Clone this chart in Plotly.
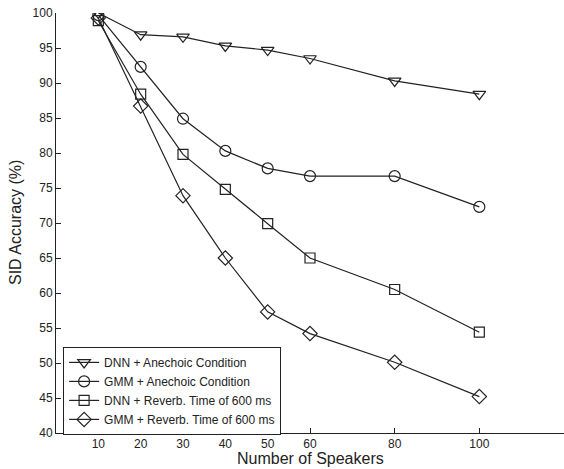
import plotly.graph_objects as go

speakers = [10, 20, 30, 40, 50, 60, 80, 100]
dnn_anechoic = [100.0, 96.9, 96.6, 95.3, 94.7, 93.5, 90.3, 88.4]
gmm_anechoic = [99.7, 92.3, 84.9, 80.3, 77.8, 76.7, 76.7, 72.3]
dnn_reverb = [98.9, 88.4, 79.8, 74.8, 69.9, 65.0, 60.5, 54.4]
gmm_reverb = [99.3, 86.7, 73.9, 65.0, 57.3, 54.2, 50.1, 45.2]

names = ["DNN + Anechoic Condition", "GMM + Anechoic Condition",
         "DNN + Reverb. Time of 600 ms", "GMM + Reverb. Time of 600 ms"]
series = [dnn_anechoic, gmm_anechoic, dnn_reverb, gmm_reverb]
symbols = ["triangle-down-open", "circle-open", "square-open", "diamond-open"]
sizes = [11, 11, 10, 11]

xticks = [10, 20, 30, 40, 50, 60, 80, 100]
yticks = [40, 45, 50, 55, 60, 65, 70, 75, 80, 85, 90, 95, 100]

fig = go.Figure()
for name, ys, sym, sz in zip(names, series, symbols, sizes):
    fig.add_trace(go.Scatter(
        x=speakers, y=ys, name=name, mode="lines+markers",
        line=dict(color="#222222", width=1.2),
        marker=dict(symbol=sym, size=sz, color="#222222", line=dict(width=1.2, color="#222222")),
    ))

fig.update_layout(
    width=564, height=469,
    margin=dict(l=56, r=0, t=13, b=36, autoexpand=False),
    paper_bgcolor="white", plot_bgcolor="white",
    font=dict(family="Liberation Sans, Arial, sans-serif", color="#222222", size=12),
    showlegend=True,
    legend=dict(x=0.014, y=0.205, xanchor="left", yanchor="top",
                bordercolor="#222222", borderwidth=1, bgcolor="white",
                font=dict(size=12), tracegroupgap=0, itemwidth=30),
    xaxis=dict(range=[0, 120], tickvals=xticks, ticks="inside", ticklen=5,
               tickcolor="#222222", showline=True, linecolor="#222222", linewidth=1,
               showgrid=False, zeroline=False, automargin=False,
               tickfont=dict(size=12)),
    yaxis=dict(range=[40, 100], tickvals=yticks, ticks="inside", ticklen=5,
               tickcolor="#222222", showline=True, linecolor="#222222", linewidth=1,
               showgrid=False, zeroline=False, automargin=False,
               tickfont=dict(size=12)),
    annotations=[
        dict(text="Number of Speakers", xref="paper", yref="paper", x=0.5, y=-0.06,
             xanchor="center", yanchor="middle", showarrow=False, font=dict(size=16)),
        dict(text="SID Accuracy (%)", xref="paper", yref="paper", x=-0.0807, y=0.5,
             xanchor="center", yanchor="middle", textangle=-90, showarrow=False,
             font=dict(size=16)),
    ],
)

# remove the default 8px page margin so the figure fills the window exactly
fig.write_html("out.html", config={"displayModeBar": False},
               post_script="document.body.style.margin='0';")
